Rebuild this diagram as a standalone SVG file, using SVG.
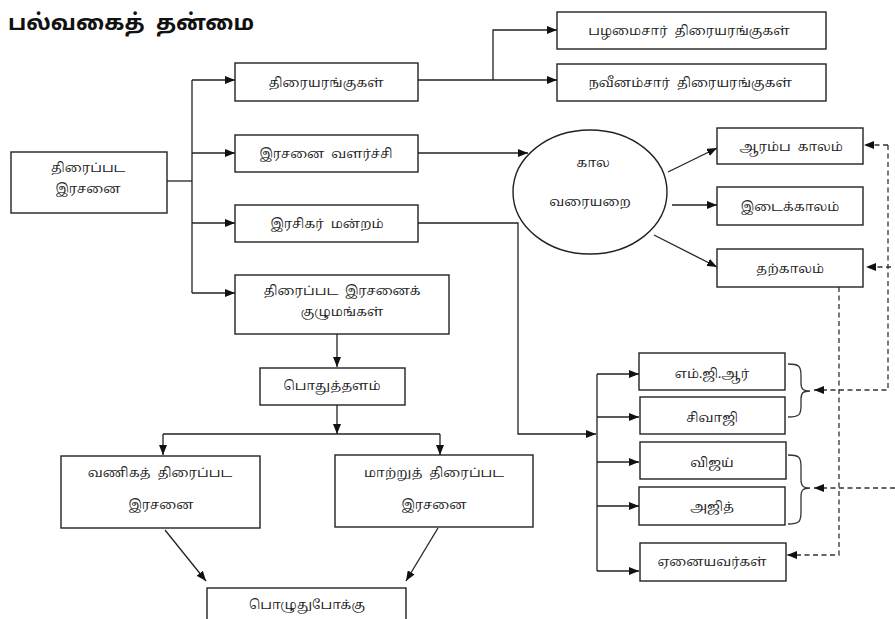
<svg xmlns="http://www.w3.org/2000/svg" width="895" height="619" viewBox="0 0 895 619">
<defs>
<style>
.bg{fill:#fff}
.box{fill:#fff;stroke:#222;stroke-width:1.4}
.ell{fill:#fff;stroke:#222;stroke-width:1.4}
.t{font-family:"Noto Serif Tamil","Noto Sans Tamil","Lohit Tamil","FreeSerif","Noto Sans",serif;font-size:13px;fill:#222;text-anchor:middle;white-space:pre}
.title{font-family:"Noto Sans Tamil","Noto Serif Tamil","Lohit Tamil","FreeSans","Noto Sans",sans-serif;font-size:22px;font-weight:bold;fill:#111;white-space:pre}
.ln{fill:none;stroke:#222;stroke-width:1.3}
.dl{fill:none;stroke:#333;stroke-width:1.3;stroke-dasharray:5 3.5}
.br{fill:none;stroke:#333;stroke-width:1.3}
</style>
<marker id="ah" viewBox="0 0 10 8" refX="10" refY="4" markerWidth="10" markerHeight="8" orient="auto" markerUnits="userSpaceOnUse">
<path d="M0,0 L10,4 L0,8 z" fill="#111"/>
</marker>
</defs>
<rect class="bg" x="0" y="0" width="895" height="619"/>
<text class="title" x="8" y="30">பல்வகைத்  தன்மை</text>

<g id="connectors">
<path class="ln" d="M167,181 H192"/>
<path class="ln" d="M192,80 V293"/>
<path class="ln" d="M192,80 H235" marker-end="url(#ah)"/>
<path class="ln" d="M192,153 H235" marker-end="url(#ah)"/>
<path class="ln" d="M192,223 H235" marker-end="url(#ah)"/>
<path class="ln" d="M192,293 H235" marker-end="url(#ah)"/>
<path class="ln" d="M418,80 H557" marker-end="url(#ah)"/>
<path class="ln" d="M493,80 V30 H557" marker-end="url(#ah)"/>
<path class="ln" d="M418,153 H528" marker-end="url(#ah)"/>
<path class="ln" d="M668,172 L717,148" marker-end="url(#ah)"/>
<path class="ln" d="M672,205 H717" marker-end="url(#ah)"/>
<path class="ln" d="M654,235 L717,267" marker-end="url(#ah)"/>
<path class="ln" d="M418,223 H518 V434 H596" marker-end="url(#ah)"/>
<path class="ln" d="M597,374 V571"/>
<path class="ln" d="M597,374 H639" marker-end="url(#ah)"/>
<path class="ln" d="M597,417 H639" marker-end="url(#ah)"/>
<path class="ln" d="M597,462 H639" marker-end="url(#ah)"/>
<path class="ln" d="M597,506 H639" marker-end="url(#ah)"/>
<path class="ln" d="M597,571 H639" marker-end="url(#ah)"/>
<path class="ln" d="M337,334 V367" marker-end="url(#ah)"/>
<path class="ln" d="M337,405 V434" marker-end="url(#ah)"/>
<path class="ln" d="M163,434 H440"/>
<path class="ln" d="M163,434 V455" marker-end="url(#ah)"/>
<path class="ln" d="M440,434 V455" marker-end="url(#ah)"/>
<path class="ln" d="M165,530 L206,581" marker-end="url(#ah)"/>
<path class="ln" d="M438,528 L406,581" marker-end="url(#ah)"/>
<path class="dl" d="M888,145 H864" marker-end="url(#ah)"/>
<path class="dl" d="M888,145 V390 H814" marker-end="url(#ah)"/>
<path class="dl" d="M891,267 H866" marker-end="url(#ah)"/>
<path class="dl" d="M895,488 H814" marker-end="url(#ah)"/>
<path class="dl" d="M839,287 V555 H787" marker-end="url(#ah)"/>
<path class="br" d="M788,364 C799,364 801,366 801,376 V383 C801,389 803,391 810,391 C803,391 801,393 801,399 V406 C801,415 799,417 788,417"/>
<path class="br" d="M788,455 C799,455 801,457 801,467 V479 C801,486 803,488 810,488 C803,488 801,490 801,497 V512 C801,522 799,524 788,524"/>
</g>

<g id="n-root"><rect class="box" x="11" y="152" width="156" height="61"/>
<text class="t" x="88" y="172">திரைப்பட</text><text class="t" x="88" y="193">இரசனை</text></g>
<g id="n-theatres"><rect class="box" x="235" y="63" width="183" height="38"/>
<text class="t" x="326" y="87">திரையரங்குகள்</text></g>
<g id="n-growth"><rect class="box" x="235" y="135" width="183" height="37"/>
<text class="t" x="326" y="158">இரசனை  வளர்ச்சி</text></g>
<g id="n-fanclub"><rect class="box" x="235" y="205" width="183" height="37"/>
<text class="t" x="327" y="228">இரசிகர்  மன்றம்</text></g>
<g id="n-society"><rect class="box" x="235" y="275" width="214" height="59"/>
<text class="t" x="342" y="295">திரைப்பட  இரசனைக்</text><text class="t" x="342" y="316">குழுமங்கள்</text></g>
<g id="n-common"><rect class="box" x="260" y="368" width="145" height="37"/>
<text class="t" x="332" y="390">பொதுத்தளம்</text></g>
<g id="n-commercial"><rect class="box" x="61" y="456" width="199" height="72"/>
<text class="t" x="160" y="477">வணிகத்  திரைப்பட</text><text class="t" x="161" y="509">இரசனை</text></g>
<g id="n-alternative"><rect class="box" x="335" y="455" width="198" height="72"/>
<text class="t" x="434" y="477">மாற்றுத்  திரைப்பட</text><text class="t" x="434" y="509">இரசனை</text></g>
<g id="n-entertainment"><rect class="box" x="207" y="588" width="199" height="40"/>
<text class="t" x="307" y="609">பொழுதுபோக்கு</text></g>
<g id="n-old"><rect class="box" x="557" y="12" width="269" height="37"/>
<text class="t" x="689" y="35">பழமைசார்  திரையரங்குகள்</text></g>
<g id="n-modern"><rect class="box" x="557" y="64" width="269" height="37"/>
<text class="t" x="690" y="87">நவீனம்சார்  திரையரங்குகள்</text></g>
<g id="n-period"><ellipse class="ell" cx="590" cy="192" rx="77" ry="62"/>
<text class="t" x="593" y="167">கால</text><text class="t" x="590" y="206">வரையறை</text></g>
<g id="n-early"><rect class="box" x="717" y="128" width="146" height="36"/>
<text class="t" x="791" y="151">ஆரம்ப  காலம்</text></g>
<g id="n-middle"><rect class="box" x="717" y="187" width="146" height="38"/>
<text class="t" x="790" y="211">இடைக்காலம்</text></g>
<g id="n-present"><rect class="box" x="717" y="249" width="146" height="38"/>
<text class="t" x="790" y="273">தற்காலம்</text></g>
<g id="n-mgr"><rect class="box" x="639" y="353" width="146" height="37"/>
<text class="t" x="712" y="378">எம்.ஜி.ஆர்</text></g>
<g id="n-sivaji"><rect class="box" x="640" y="397" width="145" height="37"/>
<text class="t" x="712" y="422">சிவாஜி</text></g>
<g id="n-vijay"><rect class="box" x="640" y="442" width="146" height="37"/>
<text class="t" x="712" y="467">விஜய்</text></g>
<g id="n-ajith"><rect class="box" x="639" y="487" width="146" height="38"/>
<text class="t" x="712" y="511">அஜித்</text></g>
<g id="n-others"><rect class="box" x="640" y="543" width="146" height="38"/>
<text class="t" x="712" y="566">ஏனையவர்கள்</text></g>
</svg>
